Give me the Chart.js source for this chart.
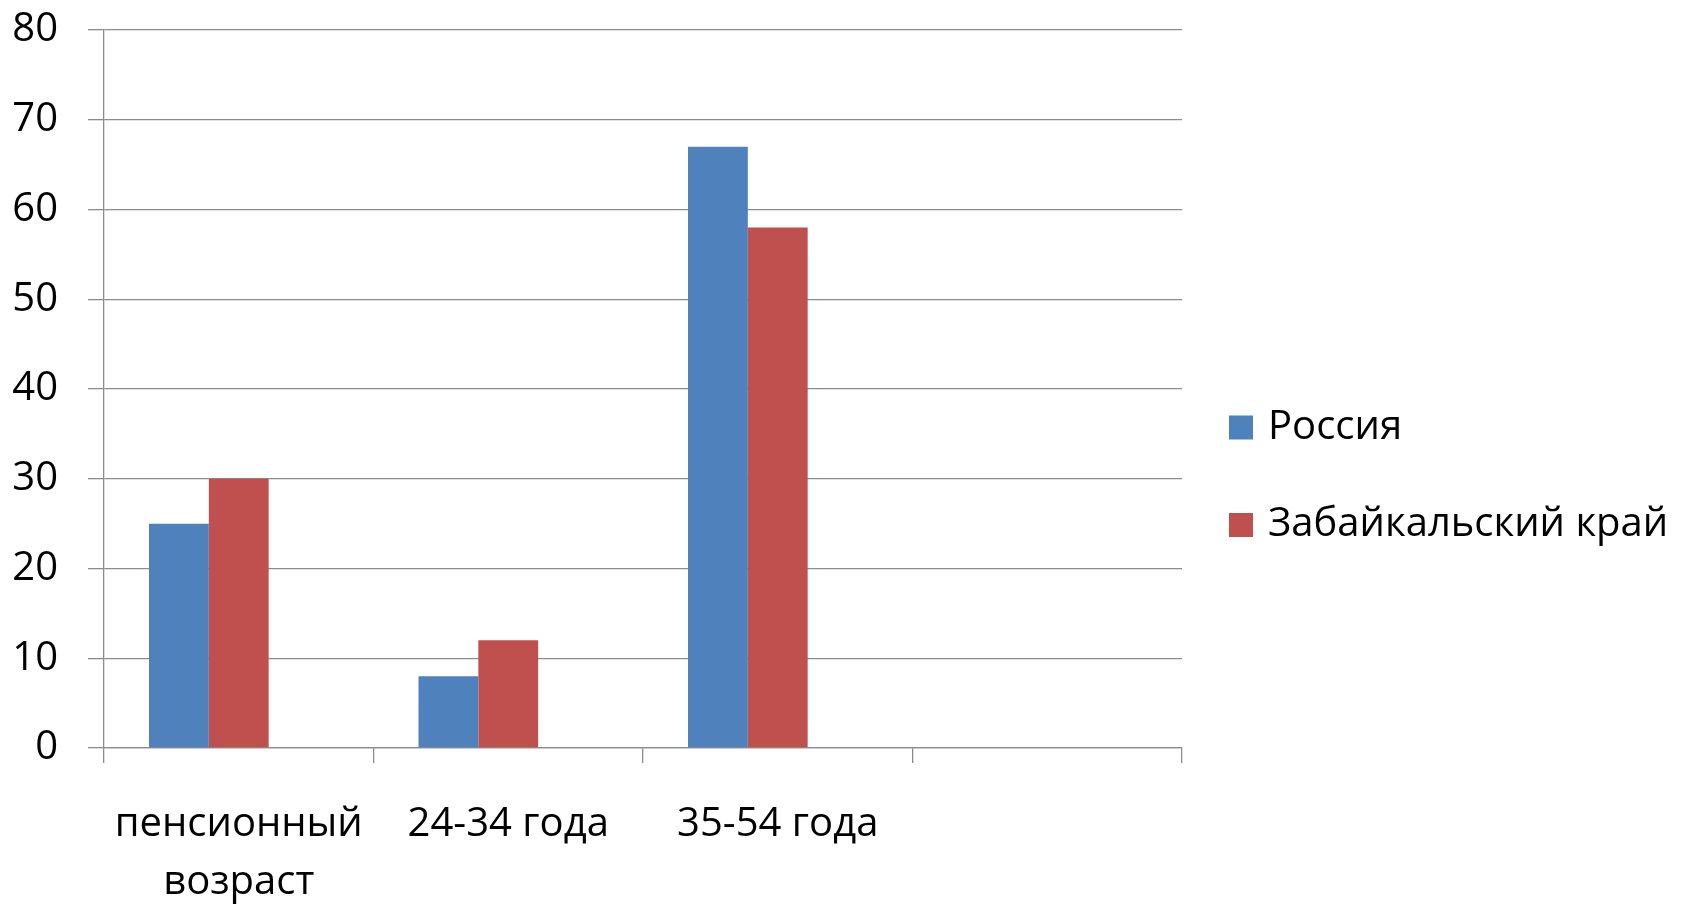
<!DOCTYPE html>
<html>
<head>
<meta charset="utf-8">
<script src="https://cdn.jsdelivr.net/npm/chart.js@4/dist/chart.umd.min.js"></script>
<style>
  html, body { margin: 0; padding: 0; background: #fff; overflow: hidden; }
  #wrap { width: 1687px; height: 904px; position: relative; }
</style>
</head>
<body>
<div id="wrap"><canvas id="c"></canvas></div>
<script>
// Age groups on the category axis (the last slot is left empty)
const categories = [['пенсионный', 'возраст'], '24-34 года', '35-54 года', ''];

// Series values, percent
const russia = [25, 8, 67, null];
const zabaikalsky = [30, 12, 58, null];
const reserved = [null, null, null, null];

const seriesNames = ['Россия', 'Забайкальский край', ''];
const seriesColors = ['#4F81BD', '#C0504D', '#9BBB59'];

const yMin = 0;
const yMax = 80;
const yStep = 10;

const FONT = "'Open Sans', 'DejaVu Sans', sans-serif";
const GRID = '#8c8c8c';

// Legend drawn to the right of the plot, one swatch per named series
const sideLegend = {
  id: 'sideLegend',
  afterDraw(chart, args, opts) {
    const ctx = chart.ctx;
    const area = chart.chartArea;
    ctx.save();
    ctx.font = opts.font;
    ctx.textBaseline = 'middle';
    ctx.textAlign = 'left';
    chart.data.datasets.forEach((ds, i) => {
      if (!ds.label) return;
      const cy = opts.top + i * opts.step;
      const x = area.right + opts.gap;
      ctx.fillStyle = ds.backgroundColor;
      ctx.fillRect(x, cy - opts.box / 2, opts.box, opts.box);
      ctx.fillStyle = '#000';
      ctx.fillText(ds.label, x + opts.box + opts.textGap, cy);
    });
    ctx.restore();
  }
};

new Chart(document.getElementById('c'), {
  type: 'bar',
  data: {
    labels: categories,
    datasets: [
      { label: seriesNames[0], data: russia, backgroundColor: seriesColors[0] },
      { label: seriesNames[1], data: zabaikalsky, backgroundColor: seriesColors[1] },
      { label: seriesNames[2], data: reserved, backgroundColor: seriesColors[2] }
    ]
  },
  options: {
    responsive: true,
    maintainAspectRatio: false,
    animation: false,
    datasets: {
      bar: { categoryPercentage: 0.666, barPercentage: 1.0, borderWidth: 0 }
    },
    layout: { padding: { top: 30, right: 505, bottom: 0, left: 0 } },
    plugins: {
      legend: { display: false },
      tooltip: { enabled: false },
      sideLegend: {
        font: "40px " + FONT,
        top: 427.5,
        step: 97.5,
        gap: 47,
        box: 24,
        textGap: 15
      }
    },
    scales: {
      x: {
        offset: true,
        grid: {
          offset: true,
          drawOnChartArea: false,
          drawTicks: true,
          tickLength: 15,
          color: GRID,
          lineWidth: 1.3
        },
        border: { display: true, color: GRID, width: 1.3 },
        ticks: {
          color: '#000',
          font: { family: FONT, size: 40, lineHeight: 1.45 },
          padding: 33,
          maxRotation: 0,
          autoSkip: false
        },
        afterFit(scale) {
          scale.height = 156;
          scale.paddingLeft = 0;
          scale.paddingRight = 0;
        }
      },
      y: {
        min: yMin,
        max: yMax,
        ticks: {
          stepSize: yStep,
          color: '#000',
          font: { family: FONT, size: 40 },
          padding: 30
        },
        grid: {
          color: GRID,
          lineWidth: 1.3,
          drawTicks: true,
          tickLength: 16
        },
        border: { display: true, color: GRID, width: 1.3 },
        afterFit(scale) {
          scale.width = 104;
          scale.paddingTop = 0;
          scale.paddingBottom = 0;
        }
      }
    }
  },
  plugins: [sideLegend]
});
</script>
</body>
</html>
